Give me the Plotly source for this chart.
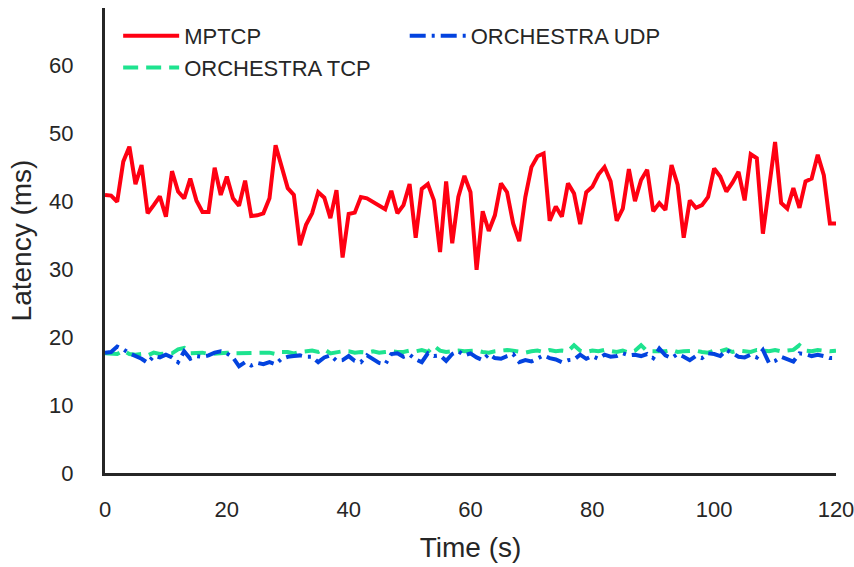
import plotly.graph_objects as go

time_s = list(range(0, 121))

mptcp = [
    40.9, 40.8, 39.9, 45.8, 48.0, 42.5, 45.3, 38.2, 39.4, 40.7,
    37.7, 44.4, 41.4, 40.4, 43.3, 40.1, 38.4, 38.4, 44.9, 40.9,
    43.6, 40.4, 39.3, 43.0, 37.8, 37.9, 38.2, 40.4, 48.2, 45.0,
    41.9, 40.9, 33.5, 36.5, 38.2, 41.3, 40.5, 37.5, 41.6, 31.7,
    38.1, 38.3, 40.6, 40.4, 39.9, 39.4, 38.8, 41.5, 38.2, 39.4,
    42.5, 34.6, 41.8, 42.5, 40.1, 32.5, 42.9, 33.8, 40.6, 43.7,
    41.3, 29.9, 38.5, 35.6, 37.9, 42.6, 41.3, 36.7, 34.1, 40.6,
    45.0, 46.6, 47.0, 37.1, 39.2, 37.7, 42.6, 41.1, 36.6, 41.3,
    42.1, 43.9, 45.0, 42.9, 37.1, 38.9, 44.7, 40.0, 43.1, 44.6,
    38.5, 39.7, 38.7, 45.3, 42.4, 34.6, 40.1, 39.0, 39.4, 40.6,
    44.8, 43.6, 41.4, 42.7, 44.3, 40.1, 46.9, 46.3, 35.2, 41.9,
    48.7, 39.7, 38.9, 41.9, 39.0, 42.9, 43.3, 46.8, 43.8, 36.7,
    36.7,
]

orchestra_tcp = [
    17.6, 17.6, 17.5, 18.0, 17.5, 17.4, 17.5, 17.3, 17.7, 17.5,
    17.5, 17.6, 18.2, 18.4, 17.6, 17.7, 17.7, 17.5, 17.6, 17.6,
    17.7, 17.6, 17.6, 17.6, 17.7, 17.6, 17.6, 17.7, 17.5, 17.8,
    17.8, 17.6, 17.8, 17.9, 18.0, 17.8, 18.2, 17.6, 17.8, 17.9,
    17.9, 17.7, 17.8, 17.7, 17.9, 17.7, 17.8, 17.9, 17.8, 17.8,
    18.0, 17.9, 18.1, 17.8, 18.7, 18.0, 17.8, 17.9, 18.0, 17.9,
    17.9, 18.0, 17.8, 17.7, 17.9, 18.0, 18.1, 18.0, 17.9, 17.7,
    17.9, 18.0, 17.8, 18.1, 17.9, 18.0, 17.9, 18.8, 18.0, 17.8,
    18.0, 17.9, 18.1, 18.0, 17.8, 18.0, 17.7, 18.0, 18.8, 17.9,
    17.9, 18.0, 17.9, 18.1, 17.8, 17.9, 17.9, 18.0, 17.8, 17.7,
    18.0, 17.9, 18.2, 17.8, 18.0, 17.9, 17.8, 18.1, 18.0, 17.9,
    18.1, 17.9, 18.0, 18.1, 18.8, 18.0, 17.9, 18.1, 18.0, 17.9,
    18.0,
]

orchestra_udp = [
    17.7, 17.8, 18.6, 18.2, 17.6, 17.2, 16.8, 16.2, 17.2, 17.0,
    17.4, 17.0, 16.3, 17.9, 16.8, 17.2, 17.1, 17.3, 17.7, 17.9,
    17.6, 17.0, 15.7, 16.3, 15.8, 16.2, 16.0, 16.3, 16.0, 16.8,
    17.1, 17.2, 17.3, 17.1, 17.1, 16.3, 17.0, 17.3, 16.5, 16.6,
    17.2, 16.5, 16.3, 17.3, 16.7, 16.2, 16.0, 17.5, 17.6, 17.1,
    17.4, 16.7, 16.3, 17.6, 17.2, 17.3, 16.5, 17.5, 17.9, 17.3,
    17.6, 17.0, 16.6, 17.5, 16.9, 16.8, 17.2, 17.5, 16.3, 16.6,
    16.4, 16.9, 17.3, 16.9, 16.7, 16.3, 16.6, 16.7, 17.4, 16.8,
    17.2, 16.8, 17.4, 17.1, 17.2, 17.6, 17.3, 17.4, 17.2, 17.5,
    16.9, 18.3, 17.3, 16.9, 17.5, 17.1, 16.6, 17.2, 16.9, 17.6,
    17.5, 17.2, 18.1, 17.6, 17.1, 17.0, 17.4, 17.0, 18.1, 16.2,
    16.5, 17.1, 16.8, 16.4, 17.6, 17.5, 17.2, 17.4, 17.2, 16.9,
    16.9,
]

x_ticks = [0, 20, 40, 60, 80, 100, 120]
y_ticks = [0, 10, 20, 30, 40, 50, 60]

FONT = "Liberation Sans, Arial, sans-serif"
TXT = "#262626"

fig = go.Figure()
fig.add_trace(go.Scatter(x=time_s, y=orchestra_tcp, mode="lines", name="ORCHESTRA TCP",
                         line=dict(color="#1ee38f", width=4, dash="15px,8px"),
                         legend="legend", legendrank=2, legendgroup="b"))
fig.add_trace(go.Scatter(x=time_s, y=orchestra_udp, mode="lines", name="ORCHESTRA UDP",
                         line=dict(color="#0343df", width=4, dash="16px,6px,3px,6px"),
                         legend="legend2", legendrank=3, legendgroup="c"))
fig.add_trace(go.Scatter(x=time_s, y=mptcp, mode="lines", name="MPTCP",
                         line=dict(color="#ff0012", width=4),
                         legend="legend", legendrank=1, legendgroup="a"))

fig.update_layout(
    width=854, height=567,
    margin=dict(l=105, r=18, t=8, b=94),
    paper_bgcolor="white", plot_bgcolor="white",
    font=dict(family=FONT, color=TXT, size=22),
    legend=dict(x=0.018, y=0.985, xanchor="left", yanchor="top",
                bgcolor="rgba(0,0,0,0)", font=dict(size=22, family=FONT, color=TXT),
                itemwidth=56, traceorder="grouped", tracegroupgap=0),
    legend2=dict(x=0.41, y=0.985, xanchor="left", yanchor="top",
                 bgcolor="rgba(0,0,0,0)", font=dict(size=22, family=FONT, color=TXT),
                 itemwidth=56),
    showlegend=True,
)
fig.update_xaxes(
    range=[0, 120], tickvals=x_ticks, ticktext=[str(v) for v in x_ticks],
    showgrid=False, zeroline=False, showline=True, linecolor=TXT, linewidth=3,
    ticks="", ticklabelstandoff=15, tickfont=dict(size=22, family=FONT, color=TXT),
    automargin=False, ticklabeloverflow="allow",
    title=dict(text="Time (s)", font=dict(size=28, family=FONT, color=TXT), standoff=16),
)
fig.update_yaxes(
    range=[0, 68.4], tickvals=y_ticks, ticktext=[str(v) for v in y_ticks],
    showgrid=False, zeroline=False, showline=True, linecolor=TXT, linewidth=3,
    ticks="", ticklabelstandoff=24, tickfont=dict(size=22, family=FONT, color=TXT),
    automargin=False, ticklabeloverflow="allow",
    title=dict(text="Latency (ms)", font=dict(size=28, family=FONT, color=TXT), standoff=10),
)

fig.write_html("out.html")
